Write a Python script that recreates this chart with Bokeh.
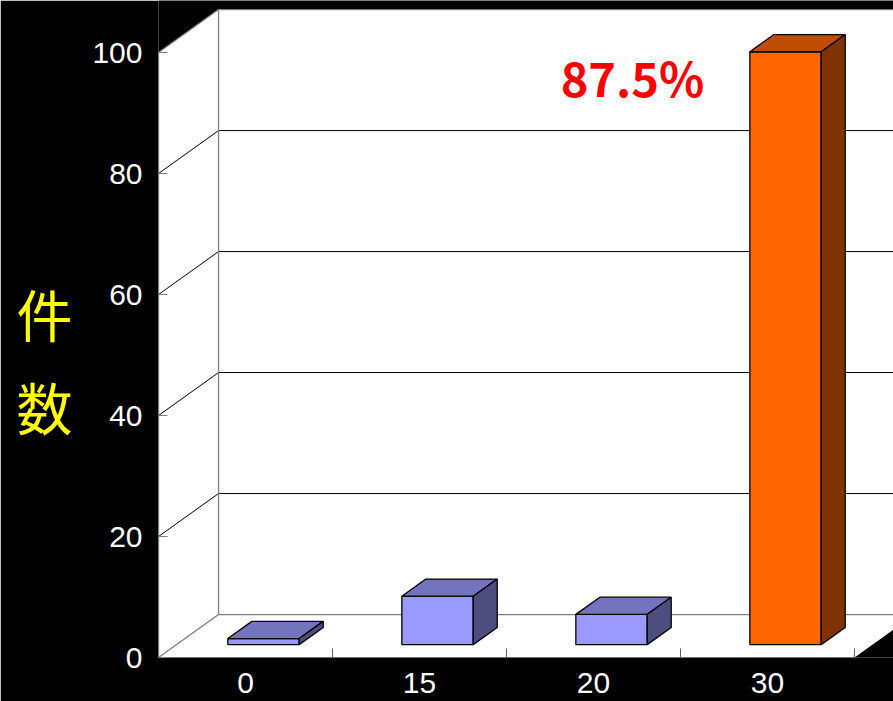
from bokeh.plotting import figure
from bokeh.models import FixedTicker, Label, LinearAxis
from bokeh.embed import file_html
from bokeh.resources import INLINE

# --- data -------------------------------------------------------------
categories = ["0", "15", "20", "30"]
counts = [1, 8, 5, 98]
y_ticks = [0, 20, 40, 60, 80, 100]
highlight = "30"
y_title_chars = ["件", "数"]

# --- 3-D box geometry (oblique projection, data units) ----------------
DX, DY = 0.345, 7.1          # shift of the back plane
Y_TOP = 100
N = len(categories)
HALF = 0.205                 # half bar width
D0, D1 = 0.3, 0.7            # bar depth span (0 = front, 1 = back)
TITLE_Y = [57.1, 41.6]       # heights at which the stacked title characters sit

FACE = {"normal": ("#9999FF", "#7373BF", "#4D4D80"),
        "hi": ("#FF6600", "#BF4C00", "#803300")}
EDGE_GREY = "#808080"

p = figure(frame_width=735, frame_height=657,
           x_range=(0, 4.224), y_range=(0, 108.6),
           min_border_left=158, min_border_right=0,
           min_border_top=0, min_border_bottom=44,
           output_backend="svg", toolbar_location=None,
           background_fill_color="black", border_fill_color="black")
p.outline_line_color = None
p.grid.visible = False

# walls and floor
walls_x = [[0, 0, DX, DX],
           [DX, DX, N + DX, N + DX],
           [0, N, N + DX, DX]]
walls_y = [[0, Y_TOP, Y_TOP + DY, DY],
           [DY, Y_TOP + DY, Y_TOP + DY, DY],
           [0, 0, DY, DY]]
p.patches(walls_x, walls_y, fill_color="white", line_color=None)

# gridlines on the side wall and back wall
gx, gy = [], []
for t in y_ticks[1:-1]:
    gx.append([0, DX, N + DX])
    gy.append([t, t + DY, t + DY])
p.multi_line(gx, gy, line_color="black", line_width=1)

# grey box edges (front-left edge included)
ex = [[0, DX, N + DX], [DX, DX], [0, DX, N + DX], [0, 0]]
ey = [[Y_TOP, Y_TOP + DY, Y_TOP + DY], [DY, Y_TOP + DY], [0, DY, DY], [0, Y_TOP]]
p.multi_line(ex, ey, line_color=EDGE_GREY, line_width=1.3)

# bars: front, top and side faces
xs, ys, fills = [], [], []
for i, (cat, v) in enumerate(zip(categories, counts)):
    front, top, side = FACE["hi"] if cat == highlight else FACE["normal"]
    c = i + 0.5
    xl0, xr0 = c - HALF + D0 * DX, c + HALF + D0 * DX
    xl1, xr1 = c - HALF + D1 * DX, c + HALF + D1 * DX
    yb0, yb1 = D0 * DY, D1 * DY
    yt0, yt1 = v + D0 * DY, v + D1 * DY
    xs += [[xl0, xr0, xr0, xl0], [xl0, xr0, xr1, xl1], [xr0, xr1, xr1, xr0]]
    ys += [[yb0, yb0, yt0, yt0], [yt0, yt0, yt1, yt1], [yb0, yb1, yt1, yt0]]
    fills += [front, top, side]
p.patches(xs, ys, fill_color=fills, line_color="black", line_width=1.3)

# value axis
yax = p.yaxis[0]
yax.ticker = FixedTicker(ticks=y_ticks, minor_ticks=[])
yax.axis_line_color = None
yax.major_tick_in = 9
yax.major_tick_out = 0
yax.major_tick_line_color = EDGE_GREY
yax.major_label_standoff = 16
yax.major_label_text_color = "white"
yax.major_label_text_font = "Liberation Sans"
yax.major_label_text_font_size = "30px"

# stacked vertical title, one character per row
title_axis = LinearAxis(
    ticker=FixedTicker(ticks=TITLE_Y, minor_ticks=[]),
    major_label_overrides={y: ch for y, ch in zip(TITLE_Y, y_title_chars)},
    axis_line_color=None, major_tick_line_color=None,
    major_tick_in=0, major_tick_out=0, minor_tick_line_color=None,
    major_label_standoff=17,
    major_label_text_color="#FFFF00",
    major_label_text_font="Noto Sans CJK JP",
    major_label_text_font_size="56px")
p.add_layout(title_axis, "left")

# category axis: labels at bar centres, small ticks between categories
xax = p.xaxis[0]
xax.ticker = FixedTicker(ticks=[i + 0.5 for i in range(N)],
                         minor_ticks=[i + 1 for i in range(N)])
xax.major_label_overrides = {i + 0.5: cat for i, cat in enumerate(categories)}
xax.axis_line_color = None
xax.major_tick_in = 0
xax.major_tick_out = 0
xax.minor_tick_in = 9
xax.minor_tick_out = 0
xax.minor_tick_line_color = "#606060"
xax.major_label_standoff = 15
xax.major_label_text_color = "white"
xax.major_label_text_font = "Liberation Sans"
xax.major_label_text_font_size = "30px"

# share of the highlighted category
share = 100 * counts[categories.index(highlight)] / sum(counts)
p.add_layout(Label(x=2.724, y=96.0, text=f"{share:.1f}%", text_color="#FF0000",
                   text_font="Noto Sans CJK JP", text_font_style="bold",
                   text_font_size="47px", text_align="center",
                   text_baseline="alphabetic"))

open("out.html", "w").write(file_html(p, INLINE))
